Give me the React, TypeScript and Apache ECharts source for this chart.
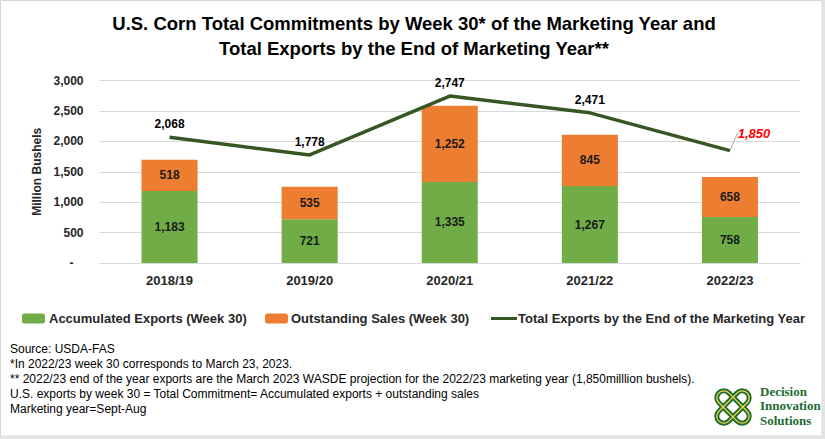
import React, { useEffect, useRef } from "react";
import * as echarts from "echarts";

const categories = ["2018/19", "2019/20", "2020/21", "2021/22", "2022/23"];
const accumulatedExports = [1183, 721, 1335, 1267, 758];
const outstandingSales = [518, 535, 1252, 845, 658];
const totalExports = [2068, 1778, 2747, 2471, 1850];
const yTicks = { min: 0, max: 3000, interval: 500 };

const titleLines = [
  "U.S. Corn Total Commitments by Week 30* of the Marketing Year and",
  "Total Exports by the End of Marketing Year**",
];
const footnotes = [
  "Source: USDA-FAS",
  "*In 2022/23 week 30 corresponds to March 23, 2023.",
  "** 2022/23 end of the year exports are the March 2023 WASDE projection for the 2022/23 marketing year (1,850milllion bushels).",
  "U.S. exports by week 30 = Total Commitment= Accumulated exports + outstanding sales",
  "Marketing year=Sept-Aug",
];
const logoLines = ["Decision", "Innovation", "Solutions"];

const S1 = "Accumulated Exports (Week 30)";
const S2 = "Outstanding Sales (Week 30)";
const S3 = "Total Exports by the End of the Marketing Year";

const FONT = "'Liberation Sans', Arial, sans-serif";
const fmt = (v: number) => v.toLocaleString("en-US");

export default function App() {
  const ref = useRef<HTMLDivElement>(null);
  useEffect(() => {
    if (!ref.current) return;
    const chart = echarts.init(ref.current, undefined, { renderer: "svg" });
    const lastIdx = totalExports.length - 1;
    const lineData = totalExports.map((v, i) =>
      i === lastIdx
        ? {
            value: v,
            label: {
              color: "#FF0000",
              fontStyle: "italic",
              fontSize: 13,
            },
            labelLine: { show: true, lineStyle: { color: "#a6a6a6", width: 1 } },
          }
        : v
    );
    const legendText = { fontFamily: FONT, fontWeight: "bold", fontSize: 13, color: "#262626" };
    chart.setOption({
      animation: false,
      textStyle: { fontFamily: FONT },
      grid: { left: 99.5, right: 25, top: 80.7, bottom: 176 },
      legend: [
        {
          data: [S1], left: 17, top: 307, itemWidth: 23, itemHeight: 10, itemGap: 0,
          textStyle: { ...legendText, padding: [0, 0, 0, -1] },
          itemStyle: { borderWidth: 0 },
        },
        {
          data: [S2], left: 260, top: 307, itemWidth: 23, itemHeight: 10,
          textStyle: { ...legendText, padding: [0, 0, 0, -2] },
          itemStyle: { borderWidth: 0 },
        },
        {
          data: [{ name: S3, icon: "rect" }], left: 486, top: 307, itemWidth: 26, itemHeight: 3,
          textStyle: { ...legendText, padding: [0, 0, 0, -4] },
        },
      ],
      xAxis: {
        type: "category",
        data: categories,
        axisTick: { show: false },
        axisLine: { lineStyle: { color: "#d9d9d9" } },
        axisLabel: { fontWeight: "bold", fontSize: 13, color: "#262626", margin: 11, fontFamily: FONT },
      },
      yAxis: {
        type: "value",
        min: yTicks.min,
        max: yTicks.max,
        interval: yTicks.interval,
        name: "Million Bushels",
        nameLocation: "middle",
        nameGap: 56,
        nameTextStyle: { fontWeight: "bold", fontSize: 12, color: "#262626", fontFamily: FONT },
        axisLabel: {
          fontWeight: "bold",
          fontSize: 12,
          color: "#262626",
          margin: 16,
          fontFamily: FONT,
          formatter: (v: number) => (v === 0 ? "-   " : fmt(v)),
        },
        splitLine: { lineStyle: { color: "#d9d9d9" } },
      },
      series: [
        {
          name: S1,
          type: "bar",
          stack: "c",
          data: accumulatedExports,
          barWidth: "40%",
          itemStyle: { color: "#70AD47" },
          label: {
            show: true, position: "inside", fontWeight: "bold", fontSize: 12, color: "#1a1a1a",
            fontFamily: FONT, formatter: (p: any) => fmt(p.value),
          },
        },
        {
          name: S2,
          type: "bar",
          stack: "c",
          data: outstandingSales,
          barWidth: "40%",
          itemStyle: { color: "#ED7D31" },
          label: {
            show: true, position: "inside", fontWeight: "bold", fontSize: 12, color: "#1a1a1a",
            fontFamily: FONT, formatter: (p: any) => fmt(p.value),
          },
        },
        {
          name: S3,
          type: "line",
          data: lineData,
          symbol: "circle",
          symbolSize: 0.1,
          showSymbol: true,
          itemStyle: { color: "#375623" },
          lineStyle: { color: "#375623", width: 3.5 },
          label: {
            show: true, position: "top", distance: 7, fontWeight: "bold", fontSize: 12,
            color: "#000", fontFamily: FONT, formatter: (p: any) => fmt(p.value),
          },
          labelLayout: (p: any) => (p.dataIndex === lastIdx ? { dx: 24, dy: -4 } : {}),
        },
      ],
      graphic: [
        { type: "rect", shape: { x: 0.5, y: 0.5, width: 821.5, height: 435.5 }, style: { fill: "none", stroke: "#d6d6d6", lineWidth: 1 }, silent: true },
        { type: "rect", shape: { x: 822, y: 0, width: 3, height: 439 }, style: { fill: "#e3e3e3" }, silent: true },
        { type: "rect", shape: { x: 0, y: 436, width: 825, height: 3 }, style: { fill: "#e3e3e3" }, silent: true },
        ...titleLines.map((t, i) => ({
          type: "text", x: 414, y: 23 + i * 25,
          style: {
            text: t, fontFamily: FONT, fontWeight: "bold", fontSize: 18.5,
            fill: "#000", align: "center", verticalAlign: "middle",
          },
        })),
        {
          type: "text", left: 10, top: 341,
          style: { text: footnotes.join("\n"), fontFamily: FONT, fontSize: 12, lineHeight: 15, fill: "#000" },
        },
        {
          type: "group", x: 733, y: 407, rotation: Math.PI / 4,
          children: [
            { type: "rect", shape: { x: -20, y: -7, width: 40, height: 14, r: 7 }, style: { fill: "none", stroke: "#1E6B30", lineWidth: 5 } },
            { type: "rect", shape: { x: -7, y: -20, width: 14, height: 40, r: 7 }, style: { fill: "none", stroke: "#1E6B30", lineWidth: 5 } },
            { type: "rect", shape: { x: -20, y: -7, width: 40, height: 14, r: 7 }, style: { fill: "none", stroke: "#F2D64B", lineWidth: 1.3 } },
            { type: "rect", shape: { x: -7, y: -20, width: 14, height: 40, r: 7 }, style: { fill: "none", stroke: "#F2D64B", lineWidth: 1.3 } },
          ],
        },
        {
          type: "text", left: 760, top: 384,
          style: {
            text: logoLines.join("\n"), fontFamily: "'Liberation Serif', 'DejaVu Serif', serif", fontWeight: "bold",
            fontSize: 13, lineHeight: 14.5, fill: "#1E6B30",
          },
        },
      ],
    });
    return () => chart.dispose();
  }, []);
  return (
    <div
      ref={ref}
      style={{ position: "absolute", left: 0, top: 0, width: 825, height: 439, background: "#fff" }}
    />
  );
}
